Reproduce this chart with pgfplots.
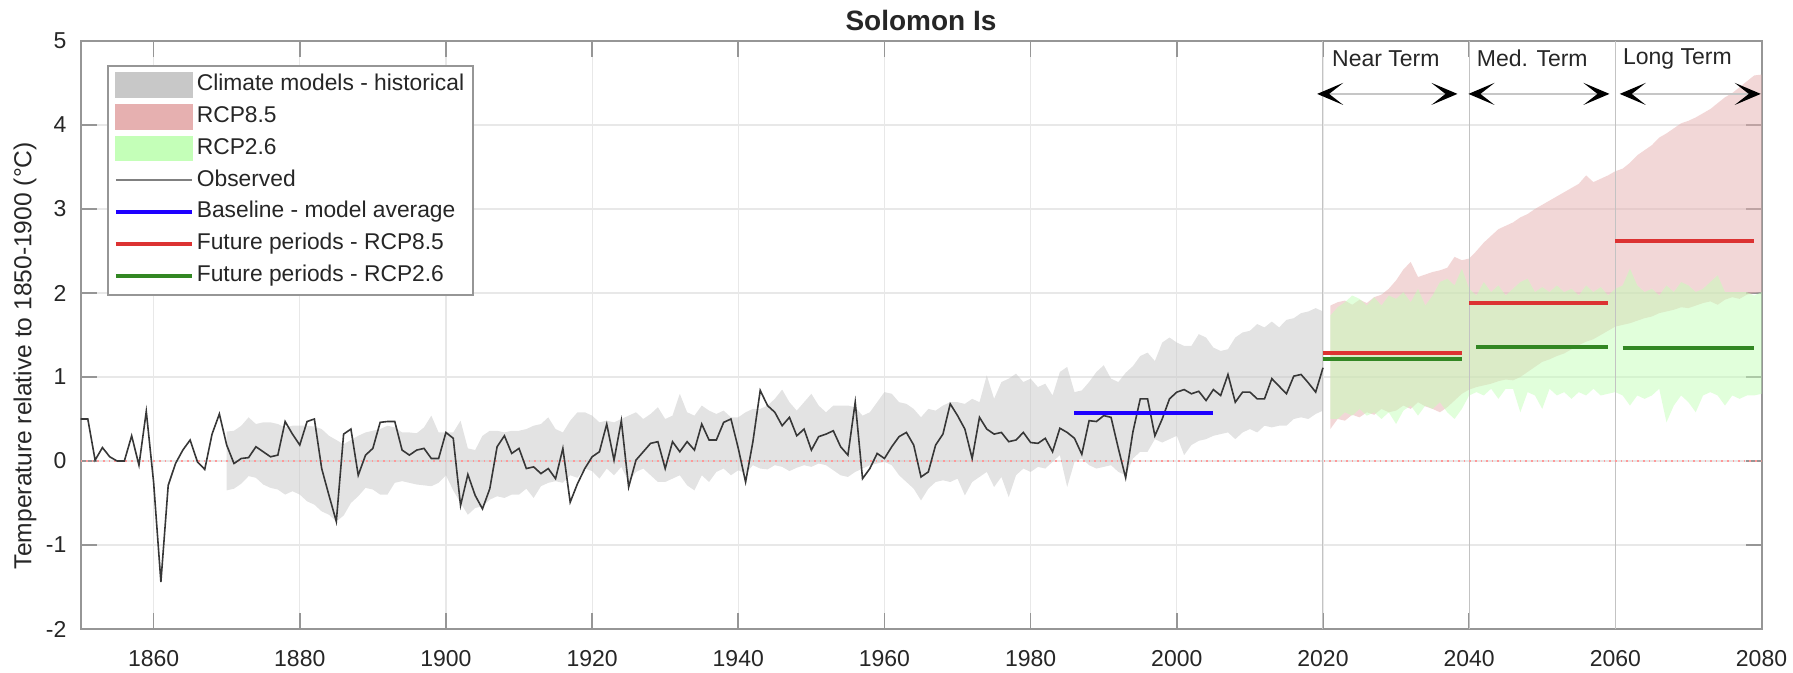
\documentclass[border=0pt]{standalone}
\usepackage{fontspec}
\setmainfont{Liberation Sans}
\usepackage{pgfplots}
\pgfplotsset{compat=1.18}
\usepackage{pgfplotstable}
\usepgfplotslibrary{fillbetween}
\usetikzlibrary{arrows.meta}

\definecolor{histfill}{RGB}{200,200,200}
\definecolor{rcpEfill}{RGB}{230,176,176}
\definecolor{rcpTfill}{RGB}{196,255,184}
\definecolor{obsline}{RGB}{55,55,55}
\definecolor{baseblue}{RGB}{30,0,255}
\definecolor{futred}{RGB}{220,50,50}
\definecolor{futgreen}{RGB}{50,135,35}
\definecolor{gridgray}{RGB}{232,232,232}
\definecolor{framegray}{RGB}{150,150,150}
\definecolor{sepgray}{RGB}{195,195,195}

\pgfplotstableread{
year val
1850 0.50
1851 0.50
1852 0.01
1853 0.16
1854 0.05
1855 0.00
1856 0.00
1857 0.30
1858 -0.05
1859 0.59
1860 -0.25
1861 -1.44
1862 -0.29
1863 -0.03
1864 0.13
1865 0.25
1866 -0.01
1867 -0.10
1868 0.32
1869 0.56
1870 0.19
1871 -0.03
1872 0.03
1873 0.04
1874 0.17
1875 0.11
1876 0.05
1877 0.07
1878 0.47
1879 0.32
1880 0.19
1881 0.47
1882 0.50
1883 -0.09
1884 -0.41
1885 -0.72
1886 0.32
1887 0.38
1888 -0.17
1889 0.07
1890 0.15
1891 0.46
1892 0.47
1893 0.47
1894 0.13
1895 0.07
1896 0.13
1897 0.15
1898 0.03
1899 0.03
1900 0.34
1901 0.27
1902 -0.53
1903 -0.16
1904 -0.41
1905 -0.57
1906 -0.33
1907 0.17
1908 0.30
1909 0.09
1910 0.15
1911 -0.09
1912 -0.07
1913 -0.15
1914 -0.09
1915 -0.21
1916 0.15
1917 -0.49
1918 -0.27
1919 -0.09
1920 0.05
1921 0.11
1922 0.44
1923 0.01
1924 0.48
1925 -0.31
1926 0.01
1927 0.11
1928 0.21
1929 0.23
1930 -0.09
1931 0.23
1932 0.11
1933 0.23
1934 0.13
1935 0.44
1936 0.25
1937 0.25
1938 0.46
1939 0.50
1940 0.15
1941 -0.25
1942 0.23
1943 0.84
1944 0.66
1945 0.58
1946 0.42
1947 0.52
1948 0.30
1949 0.38
1950 0.13
1951 0.29
1952 0.32
1953 0.36
1954 0.17
1955 0.07
1956 0.70
1957 -0.21
1958 -0.09
1959 0.09
1960 0.03
1961 0.17
1962 0.29
1963 0.34
1964 0.19
1965 -0.19
1966 -0.13
1967 0.19
1968 0.32
1969 0.68
1970 0.54
1971 0.38
1972 0.03
1973 0.52
1974 0.38
1975 0.32
1976 0.34
1977 0.23
1978 0.25
1979 0.34
1980 0.22
1981 0.21
1982 0.27
1983 0.11
1984 0.39
1985 0.34
1986 0.27
1987 0.08
1988 0.48
1989 0.47
1990 0.54
1991 0.52
1992 0.15
1993 -0.20
1994 0.35
1995 0.74
1996 0.74
1997 0.30
1998 0.50
1999 0.74
2000 0.82
2001 0.85
2002 0.80
2003 0.83
2004 0.72
2005 0.85
2006 0.78
2007 1.03
2008 0.70
2009 0.82
2010 0.82
2011 0.74
2012 0.74
2013 0.98
2014 0.89
2015 0.80
2016 1.01
2017 1.03
2018 0.93
2019 0.82
2020 1.11
}\observed

\pgfplotstableread{
year lo hi
1870 -0.35 0.35
1871 -0.33 0.36
1872 -0.27 0.42
1873 -0.18 0.52
1874 -0.20 0.44
1875 -0.28 0.46
1876 -0.32 0.46
1877 -0.34 0.44
1878 -0.40 0.40
1879 -0.36 0.42
1880 -0.40 0.42
1881 -0.48 0.42
1882 -0.52 0.41
1883 -0.60 0.38
1884 -0.64 0.30
1885 -0.72 0.25
1886 -0.65 0.20
1887 -0.50 0.25
1888 -0.42 0.30
1889 -0.32 0.34
1890 -0.34 0.36
1891 -0.40 0.38
1892 -0.40 0.42
1893 -0.26 0.40
1894 -0.24 0.34
1895 -0.26 0.34
1896 -0.28 0.33
1897 -0.29 0.40
1898 -0.30 0.54
1899 -0.26 0.34
1900 -0.17 0.34
1901 -0.35 0.34
1902 -0.50 0.48
1903 -0.64 0.15
1904 -0.56 0.13
1905 -0.54 0.30
1906 -0.46 0.36
1907 -0.42 0.36
1908 -0.44 0.34
1909 -0.40 0.36
1910 -0.40 0.36
1911 -0.33 0.38
1912 -0.44 0.42
1913 -0.30 0.44
1914 -0.26 0.52
1915 -0.24 0.38
1916 -0.26 0.34
1917 -0.17 0.48
1918 -0.20 0.58
1919 -0.09 0.58
1920 -0.12 0.54
1921 -0.21 0.46
1922 -0.09 0.48
1923 -0.17 0.46
1924 -0.07 0.50
1925 -0.25 0.54
1926 -0.13 0.58
1927 -0.09 0.50
1928 -0.17 0.56
1929 -0.25 0.64
1930 -0.25 0.50
1931 -0.21 0.54
1932 -0.17 0.80
1933 -0.29 0.58
1934 -0.35 0.54
1935 -0.17 0.66
1936 -0.25 0.60
1937 -0.13 0.56
1938 -0.09 0.60
1939 -0.17 0.52
1940 -0.11 0.52
1941 -0.15 0.58
1942 -0.05 0.62
1943 -0.09 0.62
1944 -0.10 0.66
1945 -0.05 0.74
1946 -0.07 0.85
1947 -0.12 0.70
1948 -0.08 0.60
1949 -0.05 0.70
1950 -0.07 0.80
1951 -0.03 0.66
1952 -0.05 0.58
1953 -0.11 0.66
1954 -0.17 0.66
1955 -0.19 0.66
1956 -0.13 0.64
1957 -0.09 0.54
1958 -0.05 0.58
1959 -0.03 0.70
1960 -0.01 0.82
1961 -0.05 0.80
1962 -0.17 0.70
1963 -0.25 0.68
1964 -0.33 0.62
1965 -0.47 0.52
1966 -0.33 0.62
1967 -0.25 0.60
1968 -0.23 0.66
1969 -0.25 0.70
1970 -0.21 0.70
1971 -0.41 0.68
1972 -0.25 0.74
1973 -0.19 0.70
1974 -0.13 1.02
1975 -0.31 0.74
1976 -0.19 0.94
1977 -0.43 0.98
1978 -0.17 1.04
1979 -0.09 0.94
1980 -0.13 0.98
1981 -0.07 0.88
1982 -0.09 0.92
1983 -0.01 0.78
1984 0.07 1.06
1985 -0.31 1.12
1986 -0.01 0.82
1987 0.03 0.84
1988 -0.05 0.94
1989 -0.09 1.06
1990 -0.07 1.14
1991 -0.05 0.98
1992 -0.13 0.94
1993 -0.17 1.05
1994 0.03 1.13
1995 0.11 1.25
1996 0.11 1.29
1997 0.26 1.19
1998 0.22 1.41
1999 0.26 1.47
2000 0.30 1.41
2001 0.07 1.37
2002 0.19 1.37
2003 0.24 1.51
2004 0.26 1.47
2005 0.30 1.35
2006 0.32 1.31
2007 0.34 1.33
2008 0.26 1.47
2009 0.34 1.53
2010 0.38 1.55
2011 0.34 1.63
2012 0.42 1.59
2013 0.40 1.66
2014 0.42 1.59
2015 0.42 1.68
2016 0.50 1.70
2017 0.52 1.76
2018 0.50 1.78
2019 0.56 1.82
2020 0.60 1.78
}\histband

\pgfplotstableread{
year lo hi
2021 0.38 1.85
2022 0.50 1.89
2023 0.48 1.91
2024 0.55 1.86
2025 0.52 1.92
2026 0.58 1.88
2027 0.55 1.95
2028 0.62 1.98
2029 0.58 2.05
2030 0.60 2.15
2031 0.66 2.28
2032 0.62 2.37
2033 0.70 2.19
2034 0.65 2.22
2035 0.62 2.25
2036 0.58 2.27
2037 0.64 2.30
2038 0.72 2.43
2039 0.80 2.39
2040 0.85 2.41
2041 0.88 2.50
2042 0.90 2.60
2043 0.92 2.68
2044 0.95 2.76
2045 0.97 2.80
2046 0.96 2.84
2047 1.00 2.90
2048 1.06 2.94
2049 1.12 3.00
2050 1.18 3.05
2051 1.21 3.10
2052 1.25 3.15
2053 1.28 3.20
2054 1.33 3.25
2055 1.38 3.30
2056 1.42 3.40
2057 1.45 3.32
2058 1.50 3.36
2059 1.55 3.40
2060 1.60 3.45
2061 1.62 3.48
2062 1.64 3.55
2063 1.67 3.64
2064 1.70 3.70
2065 1.72 3.76
2066 1.76 3.85
2067 1.78 3.90
2068 1.80 3.96
2069 1.83 4.02
2070 1.82 4.05
2071 1.85 4.09
2072 1.88 4.14
2073 1.90 4.19
2074 1.86 4.26
2075 1.92 4.33
2076 1.95 4.38
2077 1.93 4.45
2078 1.98 4.52
2079 2.00 4.59
2080 2.01 4.60
}\rcpEband

\pgfplotstableread{
year lo hi
2021 0.50 1.73
2022 0.50 1.83
2023 0.58 1.89
2024 0.54 1.97
2025 0.62 1.93
2026 0.54 1.85
2027 0.58 1.95
2028 0.50 1.85
2029 0.58 1.97
2030 0.44 1.93
2031 0.60 2.01
2032 0.66 1.89
2033 0.54 2.05
2034 0.66 1.85
2035 0.62 1.97
2036 0.70 2.13
2037 0.58 2.17
2038 0.50 2.09
2039 0.62 2.29
2040 0.78 2.05
2041 0.82 1.97
2042 0.78 2.13
2043 0.86 2.01
2044 0.74 2.09
2045 0.86 1.97
2046 0.86 2.05
2047 0.58 2.13
2048 0.82 2.17
2049 0.78 2.01
2050 0.62 2.07
2051 0.86 2.01
2052 0.78 2.09
2053 0.82 2.01
2054 0.74 2.05
2055 0.82 1.97
2056 0.78 2.09
2057 0.86 2.01
2058 0.78 2.07
2059 0.80 1.97
2060 0.82 2.05
2061 0.78 2.09
2062 0.66 2.29
2063 0.78 2.09
2064 0.74 2.01
2065 0.78 2.05
2066 0.86 1.97
2067 0.46 2.09
2068 0.66 2.01
2069 0.78 2.13
2070 0.70 2.09
2071 0.58 2.01
2072 0.78 2.05
2073 0.82 2.13
2074 0.78 2.21
2075 0.66 2.01
2076 0.78 2.01
2077 0.74 2.01
2078 0.78 2.01
2079 0.78 1.97
2080 0.80 2.01
}\rcpTband

\begin{document}
\begin{tikzpicture}
\begin{axis}[
  name=ax, at={(0,0)}, anchor=south west,
  width=840.5pt, height=294pt, scale only axis,
  xmin=1850, xmax=2080, ymin=-2, ymax=5,
  xtick={1860,1880,1900,1920,1940,1960,1980,2000,2020,2040,2060,2080},
  xticklabels={1860,1880,1900,1920,1940,1960,1980,2000,2020,2040,2060,2080},
  ytick={-2,-1,0,1,2,3,4,5},
  yticklabels={-2,-1,0,1,2,3,4,5},
  grid=major, major grid style={gridgray, line width=0.6pt},
  tick align=inside, major tick length=8pt,
  every tick/.style={framegray, line width=0.8pt},
  axis line style={framegray, line width=1pt},
  tick label style={font=\fontsize{11.5}{13}\selectfont, text=black!85},
  xticklabel style={yshift=-7pt},
  yticklabel style={xshift=-3.5pt},
  title={Solomon Is},
  title style={font=\fontsize{14}{16}\selectfont\bfseries, text=black!85, at={(axis description cs:0.5,1)}, anchor=center, yshift=4pt},
  ylabel={Temperature relative to 1850-1900 (°C)},
  ylabel style={font=\fontsize{12.3}{14}\selectfont, text=black!85, at={(axis description cs:-0.033,0.465)}, anchor=center},
  legend style={at={(axis description cs:0.0158,0.959)}, anchor=north west,
    draw=framegray, line width=0.8pt, fill=white,
    font=\fontsize{11.4}{13}\selectfont, text=black!85,
    inner xsep=3pt, inner ysep=2.5pt, row sep=1.9pt,
    nodes={inner sep=1.5pt, text height=8.4pt, text depth=2.6pt}},
  legend cell align=left,
]
% legend
\addlegendimage{legend image code/.code={\fill[histfill] (0pt,-6pt) rectangle (38pt,6pt);}}
\addlegendentry{Climate models - historical}
\addlegendimage{legend image code/.code={\fill[rcpEfill] (0pt,-6pt) rectangle (38pt,6pt);}}
\addlegendentry{RCP8.5}
\addlegendimage{legend image code/.code={\fill[rcpTfill] (0pt,-6pt) rectangle (38pt,6pt);}}
\addlegendentry{RCP2.6}
\addlegendimage{legend image code/.code={\draw[gray, line width=1pt] (0pt,0pt) -- (38pt,0pt);}}
\addlegendentry{Observed}
\addlegendimage{legend image code/.code={\draw[baseblue, line width=2pt] (0pt,0pt) -- (38pt,0pt);}}
\addlegendentry{Baseline - model average}
\addlegendimage{legend image code/.code={\draw[futred, line width=2pt] (0pt,0pt) -- (38pt,0pt);}}
\addlegendentry{Future periods - RCP8.5}
\addlegendimage{legend image code/.code={\draw[futgreen, line width=2pt] (0pt,0pt) -- (38pt,0pt);}}
\addlegendentry{Future periods - RCP2.6}

% period separators
\addplot[forget plot, sepgray, line width=0.5pt] coordinates {(2020,-2) (2020,5)};
\addplot[forget plot, sepgray, line width=0.5pt] coordinates {(2040,-2) (2040,5)};
\addplot[forget plot, sepgray, line width=0.5pt] coordinates {(2060,-2) (2060,5)};

% bands
\addplot[forget plot, draw=none, name path=hh] table[x=year, y=hi] {\histband};
\addplot[forget plot, draw=none, name path=hl] table[x=year, y=lo] {\histband};
\addplot[forget plot, fill=histfill, fill opacity=0.5, draw=none] fill between[of=hh and hl];
\addplot[forget plot, draw=none, name path=eh] table[x=year, y=hi] {\rcpEband};
\addplot[forget plot, draw=none, name path=el] table[x=year, y=lo] {\rcpEband};
\addplot[forget plot, fill=rcpEfill, fill opacity=0.5, draw=none] fill between[of=eh and el];
\addplot[forget plot, draw=none, name path=th] table[x=year, y=hi] {\rcpTband};
\addplot[forget plot, draw=none, name path=tl] table[x=year, y=lo] {\rcpTband};
\addplot[forget plot, fill=rcpTfill, fill opacity=0.5, draw=none] fill between[of=th and tl];

% zero line
\addplot[forget plot, red!40, dotted, line width=0.8pt] coordinates {(1850,0) (2080,0)};

% observed
\addplot[forget plot, obsline, line width=0.8pt] table[x=year, y=val] {\observed};

% period means
\addplot[forget plot, baseblue, line width=2pt] coordinates {(1986,0.57) (2005,0.57)};
\addplot[forget plot, futgreen, line width=2pt] coordinates {(2020,1.22) (2039,1.22)};
\addplot[forget plot, futred, line width=2pt] coordinates {(2020,1.28) (2039,1.28)};
\addplot[forget plot, futred, line width=2pt] coordinates {(2040,1.88) (2059,1.88)};
\addplot[forget plot, futgreen, line width=2pt] coordinates {(2041,1.36) (2059,1.36)};
\addplot[forget plot, futred, line width=2pt] coordinates {(2060,2.62) (2079,2.62)};
\addplot[forget plot, futgreen, line width=2pt] coordinates {(2061,1.34) (2079,1.34)};

% period arrows
\addplot[forget plot, gray!45, line width=1.3pt, {Stealth[black,length=13pt,width=11pt,inset=7pt]}-{Stealth[black,length=13pt,width=11pt,inset=7pt]}] coordinates {(2019.2,4.37) (2038.4,4.37)};
\addplot[forget plot, gray!45, line width=1.3pt, {Stealth[black,length=13pt,width=11pt,inset=7pt]}-{Stealth[black,length=13pt,width=11pt,inset=7pt]}] coordinates {(2039.9,4.37) (2059.2,4.37)};
\addplot[forget plot, gray!45, line width=1.3pt, {Stealth[black,length=13pt,width=11pt,inset=7pt]}-{Stealth[black,length=13pt,width=11pt,inset=7pt]}] coordinates {(2060.6,4.37) (2079.9,4.37)};

\node[anchor=west, inner sep=0pt, font=\fontsize{11.5}{13}\selectfont, text=black!85] at (axis cs:2021.2,4.79) {Near Term};
\node[anchor=west, inner sep=0pt, font=\fontsize{11.5}{13}\selectfont, text=black!85] at (axis cs:2041.0,4.79) {Med. Term};
\node[anchor=west, inner sep=0pt, font=\fontsize{11.5}{13}\selectfont, text=black!85] at (axis cs:2061.0,4.79) {Long Term};
\end{axis}
\pgfresetboundingbox
\path (-40.25pt,-22pt) rectangle (856.25pt,314.5pt);
\end{tikzpicture}
\end{document}
